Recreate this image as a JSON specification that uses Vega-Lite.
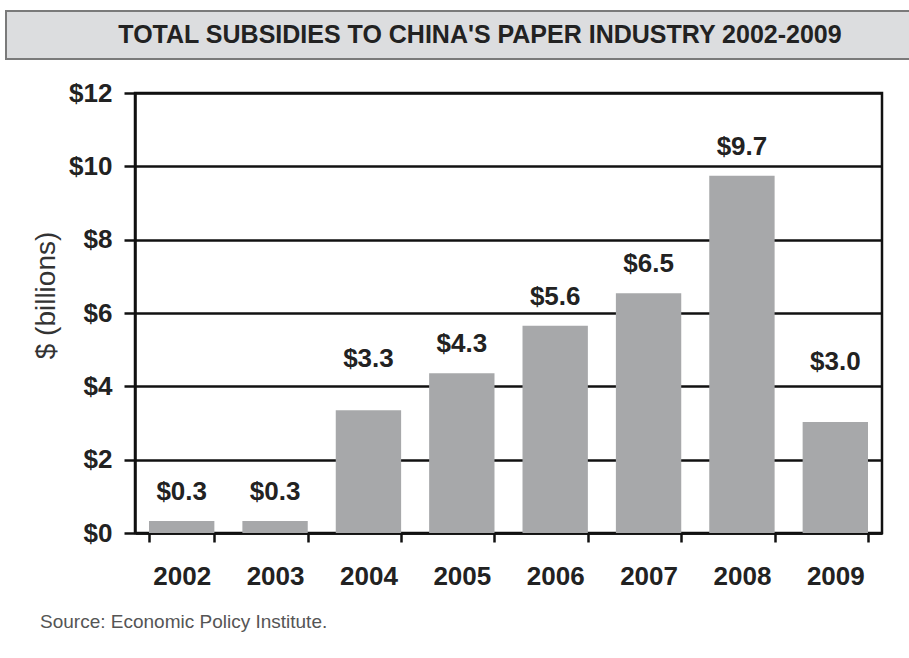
{
  "$schema": "https://vega.github.io/schema/vega-lite/v6.json",
  "padding": {"left": 5, "top": 10, "right": 0, "bottom": 0},
  "background": "white",
  "datasets": {
    "subsidies": [
      {"year": "2002", "value": 0.33, "label": "$0.3"},
      {"year": "2003", "value": 0.33, "label": "$0.3"},
      {"year": "2004", "value": 3.35, "label": "$3.3"},
      {"year": "2005", "value": 4.36, "label": "$4.3"},
      {"year": "2006", "value": 5.65, "label": "$5.6"},
      {"year": "2007", "value": 6.54, "label": "$6.5"},
      {"year": "2008", "value": 9.74, "label": "$9.7"},
      {"year": "2009", "value": 3.03, "label": "$3.0"}
    ]
  },
  "title": {
    "text": "Source: Economic Policy Institute.",
    "orient": "bottom",
    "anchor": "start",
    "frame": "group",
    "font": "Liberation Sans",
    "fontSize": 19,
    "fontWeight": "normal",
    "color": "#555555",
    "dx": 34,
    "offset": 23
  },
  "spacing": 18,
  "vconcat": [
    {
      "width": 904,
      "height": 48,
      "view": {"fill": "#dcdddf", "stroke": "#7a7a7a", "strokeWidth": 2},
      "data": {"values": [{"t": "TOTAL SUBSIDIES TO CHINA'S PAPER INDUSTRY 2002-2009"}]},
      "mark": {"type": "text", "font": "Liberation Sans", "fontWeight": "bold", "fontSize": 25, "color": "#222222", "baseline": "middle", "dx": 22},
      "encoding": {"text": {"field": "t"}}
    },
    {
      "spacing": 10,
      "hconcat": [
        {
          "width": 15,
          "height": 1,
          "view": {"stroke": null, "fill": null},
          "data": {"values": []},
          "mark": {"type": "point", "opacity": 0},
          "encoding": {}
        },
        {
          "width": 747,
          "height": 440,
          "data": {"name": "subsidies"},
          "encoding": {
            "x": {
              "field": "year",
              "type": "nominal",
              "scale": {"paddingInner": 0.3, "paddingOuter": 0.15},
              "axis": {
                "title": null,
                "labelAngle": 0,
                "tickBand": "extent",
                "tickSize": 9,
                "tickWidth": 2.5,
                "tickColor": "#111111",
                "domainColor": "#111111",
                "domainWidth": 2.5,
                "labelPadding": 21,
                "labelFontSize": 26,
                "labelFontWeight": "bold",
                "labelColor": "#222222",
                "grid": false
              }
            },
            "y": {
              "field": "value",
              "type": "quantitative",
              "scale": {"domain": [0, 12], "nice": false},
              "axis": {
                "title": "$ (billions)",
                "titleFontSize": 28,
                "titleFontWeight": "normal",
                "titleColor": "#333333",
                "titlePadding": 8,
                "titleY": 202,
                "values": [0, 2, 4, 6, 8, 10, 12],
                "labelExpr": "'$' + datum.value",
                "labelFontSize": 26,
                "labelFontWeight": "bold",
                "labelColor": "#222222",
                "labelPadding": 12,
                "tickSize": 11,
                "tickWidth": 2.5,
                "tickColor": "#111111",
                "domainColor": "#111111",
                "domainWidth": 2.5,
                "grid": true,
                "gridColor": "#111111",
                "gridWidth": 2.5,
                "gridOpacity": 1
              }
            }
          },
          "layer": [
            {"mark": {"type": "bar", "color": "#a7a8aa"}},
            {
              "transform": [{"filter": "datum.year != '2004' && datum.year != '2009'"}],
              "mark": {"type": "text", "fontSize": 26, "fontWeight": "bold", "color": "#222222", "baseline": "alphabetic", "dy": -21},
              "encoding": {"text": {"field": "label"}}
            },
            {
              "transform": [{"filter": "datum.year == '2004'"}],
              "mark": {"type": "text", "fontSize": 26, "fontWeight": "bold", "color": "#222222", "baseline": "alphabetic", "dy": -43},
              "encoding": {"text": {"field": "label"}}
            },
            {
              "transform": [{"filter": "datum.year == '2009'"}],
              "mark": {"type": "text", "fontSize": 26, "fontWeight": "bold", "color": "#222222", "baseline": "alphabetic", "dy": -52},
              "encoding": {"text": {"field": "label"}}
            }
          ]
        }
      ]
    }
  ],
  "config": {
    "font": "Liberation Sans",
    "view": {"stroke": "#111111", "strokeWidth": 2.5}
  }
}
